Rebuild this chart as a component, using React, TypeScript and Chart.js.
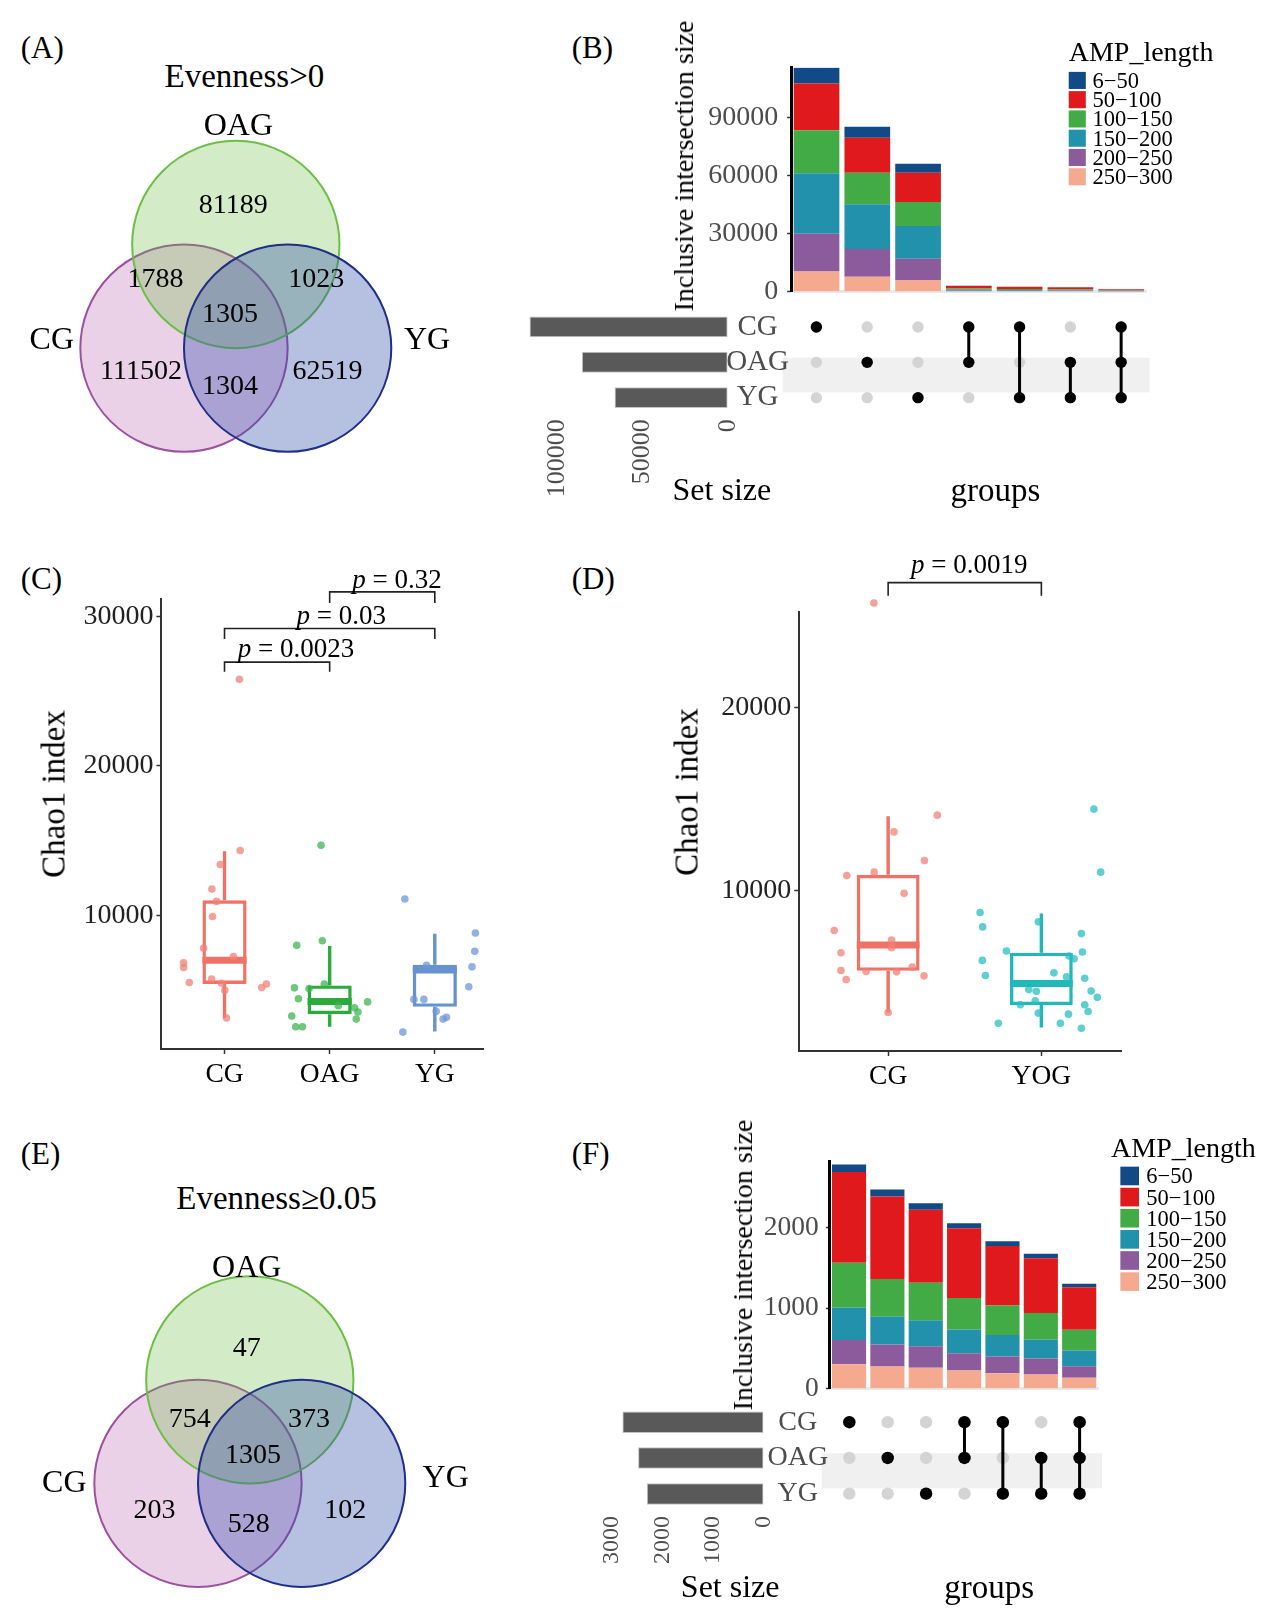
import React, { useEffect, useRef } from "react";
import { Chart, registerables } from "chart.js";

Chart.register(...registerables);
const FONT = "'Liberation Serif', 'Times New Roman', Times, serif";
Chart.defaults.font.family = FONT;
Chart.defaults.color = "#000";
const K = 1624 / 1568; // layout unit -> page pixel

// ================= DATA =================
const setNames = ["CG", "OAG", "YG"];
const ampLengths = ["6−50", "50−100", "100−150", "150−200", "200−250", "250−300"];
const ampColors = ["#124a88", "#e0191c", "#43ab45", "#2292ac", "#8c5b9b", "#f5aa8f"];
const legendTitle = "AMP_length";

// Venn region counts: OAG only, CG∩OAG, OAG∩YG, all three, CG only, CG∩YG, YG only
const vennRegionsA = [81189, 1788, 1023, 1305, 111502, 1304, 62519];
const vennRegionsE = [47, 754, 373, 1305, 203, 528, 102];

// UpSet membership for the 7 intersection columns
const memberCG = [1, 0, 0, 1, 1, 0, 1];
const memberOAG = [0, 1, 0, 1, 0, 1, 1];
const memberYG = [0, 0, 1, 0, 1, 1, 1];

// (B) inclusive intersection sizes split by AMP length
const b_6_50 = [8200, 5700, 4650, 113, 89, 78, 42];
const b_50_100 = [24200, 18100, 15100, 1300, 1100, 980, 530];
const b_100_150 = [22200, 16300, 12400, 600, 510, 450, 260];
const b_150_200 = [31300, 23100, 16900, 450, 380, 340, 193];
const b_200_250 = [19600, 14300, 11000, 330, 280, 250, 144];
const b_250_300 = [10400, 7800, 6100, 300, 250, 230, 136];
const bSetSize = [115899, 85305, 66151];
const bBarTicks = [0, 30000, 60000, 90000];
const bSetTicks = [0, 50000, 100000];

// (F)
const f_6_50 = [95, 89, 82, 63, 59, 57, 42];
const f_50_100 = [1130, 1025, 909, 868, 741, 679, 530];
const f_100_150 = [560, 470, 465, 391, 366, 333, 260];
const f_150_200 = [400, 345, 325, 297, 268, 235, 193];
const f_200_250 = [300, 275, 268, 214, 206, 197, 144];
const f_250_300 = [305, 275, 259, 226, 193, 177, 136];
const fSetSize = [2790, 2479, 2308];
const fBarTicks = [0, 1000, 2000];
const fSetTicks = [0, 1000, 2000, 3000];

// (C) Chao1 box statistics
const groupsC = ["CG", "OAG", "YG"];
const cLow = [3150, 2554, 2248];
const cQ1 = [5420, 3399, 3893];
const cMed = [7000, 4250, 6350];
const cQ3 = [11010, 5325, 6700];
const cHigh = [14300, 7956, 8779];
const cPtsCG = [25800, 14346, 13406, 11762, 10940, 9930, 7815, 7252, 6829, 6524, 5513, 5748, 5466, 5000, 3141, 5184, 5420];
const cJitCG = [0.142, 0.149, -0.041, -0.12, -0.076, -0.114, -0.199, 0.085, -0.389, -0.389, -0.335, -0.123, -0.028, 0.003, 0.019, 0.354, 0.399];
const cPtsOAG = [14698, 8309, 8003, 5161, 5114, 5420, 4433, 3963, 3822, 3540, 4221, 3070, 3282, 2554, 2554];
const cJitOAG = [-0.082, -0.07, -0.313, -0.335, -0.196, -0.051, -0.297, 0.082, 0.237, 0.269, 0.361, 0.253, -0.361, -0.323, -0.259];
const cPtsYG = [11104, 8826, 7604, 6570, 5231, 6664, 4386, 4386, 3587, 3070, 3188, 2201];
const cJitYG = [-0.285, 0.386, 0.38, 0.354, 0.323, -0.079, -0.199, -0.104, 0.013, 0.079, 0.111, -0.304];
const cTicks = [10000, 20000, 30000];
const cPLabels = ["0.0023", "0.03", "0.32"];

// (D)
const groupsD = ["CG", "YOG"];
const dLow = [3350, 2525];
const dQ1 = [5622, 3753];
const dMed = [7032, 4925];
const dQ3 = [10861, 6611];
const dHigh = [14067, 8754];
const dPtsCG = [25700, 14122, 13206, 11649, 10824, 11008, 9853, 7820, 7307, 6886, 6611, 5640, 5145, 5585, 5567, 5823, 5347, 3350];
const dJitCG = [-0.093, 0.321, 0.038, 0.237, -0.27, -0.091, 0.104, -0.352, 0.022, 0.022, -0.308, -0.308, -0.274, -0.144, 0.055, 0.157, 0.234, 0];
const dPtsYOG = [14452, 11008, 8809, 8021, 8296, 7655, 6702, 6647, 6428, 6281, 6190, 5365, 5512, 5292, 5219, 4596, 4504, 3991, 4522, 4174, 3771, 3771, 3405, 3313, 3258, 2764, 2764, 2489];
const dJitYOG = [0.343, 0.387, -0.4, -0.383, -0.02, 0.261, -0.228, 0.268, 0.181, 0.214, -0.385, -0.365, 0.082, 0.164, 0.283, -0.082, -0.033, -0.04, 0.325, 0.365, -0.137, 0.283, 0.305, -0.02, 0.177, -0.281, 0.124, 0.261];
const dTicks = [10000, 20000];
const dPLabels = ["0.0019"];

// ================= HELPERS =================
function drawText(ctx: any, text: string, x: number, cy: number, size: number, align: string = "center", color = "#000", italic = false) {
  ctx.font = `${italic ? "italic " : ""}${size}px ${FONT}`;
  ctx.textAlign = align;
  ctx.textBaseline = "alphabetic";
  ctx.fillStyle = color;
  ctx.fillText(text, x, cy + size * 0.33);
}

function ChartCanvas(props: { left: number; top: number; width: number; height: number; make: () => any }) {
  const ref = useRef<HTMLCanvasElement | null>(null);
  const w = Math.round(props.width * K);
  const h = Math.round(props.height * K);
  useEffect(() => {
    const chart = new Chart(ref.current as HTMLCanvasElement, props.make());
    return () => chart.destroy();
  }, []);
  return (
    <canvas
      ref={ref}
      width={w}
      height={h}
      style={{ position: "absolute", left: props.left * K, top: props.top * K, width: w, height: h }}
    />
  );
}

function Label(p: { x: number; y: number; size: number; rotate?: boolean; left?: boolean; children: any }) {
  const tx = p.left ? "0" : "-50%";
  return (
    <div
      style={{
        position: "absolute",
        left: p.x * K,
        top: p.y * K,
        fontSize: p.size,
        lineHeight: 1,
        whiteSpace: "nowrap",
        fontFamily: FONT,
        color: "#000",
        transform: `translate(${tx},-50%)${p.rotate ? " rotate(-90deg)" : ""}`,
      }}
    >
      {p.children}
    </div>
  );
}

const baseOpts = {
  responsive: false,
  animation: false,
  events: [],
  plugins: { legend: { display: false }, tooltip: { enabled: false }, title: { display: false } },
};

const numLabel = (v: any) => String(v);

// ================= VENN =================
const VENN_CIRCLES = [
  { cx: 0.5, cy: 0, r: 1, fill: "rgba(45,75,170,0.35)", stroke: "#1f2e86" }, // YG
  { cx: 0, cy: 1, r: 1, fill: "rgba(110,190,70,0.30)", stroke: "#6cbf45" }, // OAG
  { cx: -0.5, cy: 0, r: 1, fill: "rgba(175,70,160,0.25)", stroke: "#9c509f" }, // CG
];

function makeVenn(view: number[], regions: number[], regionPos: number[][], namePos: number[][]) {
  const textPlugin = {
    id: "vennText",
    afterDatasetsDraw(chart: any) {
      const { ctx } = chart;
      const sx = chart.scales.x;
      const sy = chart.scales.y;
      ctx.save();
      regions.forEach((v, i) => {
        drawText(ctx, String(v), sx.getPixelForValue(regionPos[i][0]), sy.getPixelForValue(regionPos[i][1]), 28);
      });
      setNames.forEach((n, i) => {
        drawText(ctx, n, sx.getPixelForValue(namePos[i][0]), sy.getPixelForValue(namePos[i][1]), 32);
      });
      ctx.restore();
    },
  };
  return {
    type: "scatter",
    data: {
      datasets: VENN_CIRCLES.map((c) => ({
        data: [{ x: c.cx, y: c.cy }],
        pointRadius: (ctx: any) => {
          const s = ctx.chart.scales.x;
          return Math.abs(s.getPixelForValue(c.r) - s.getPixelForValue(0));
        },
        pointBackgroundColor: c.fill,
        pointBorderColor: c.stroke,
        pointBorderWidth: 2,
        clip: false,
      })),
    },
    options: {
      ...baseOpts,
      layout: { padding: 0 },
      scales: {
        x: { type: "linear", display: false, min: view[0], max: view[1] },
        y: { type: "linear", display: false, min: view[2], max: view[3] },
      },
    },
    plugins: [textPlugin],
  };
}

// ================= UPSET =================
function makeUpsetBars(segs: number[][], yMax: number, ticks: number[], g: any, L: any) {
  const legendPlugin = {
    id: "upsetLegend",
    afterDraw(chart: any) {
      const ctx = chart.ctx;
      ctx.save();
      drawText(ctx, legendTitle, L.titleX * K, L.titleY * K, 28, "left");
      const ds = chart.data.datasets.slice().reverse();
      ds.forEach((d: any, i: number) => {
        const cy = (L.rowY + i * L.step) * K;
        ctx.fillStyle = d.backgroundColor;
        ctx.fillRect(L.boxX * K, cy - (L.box * K) / 2, L.box * K, L.box * K);
        drawText(ctx, d.label, L.textX * K, cy, 22.5, "left");
      });
      ctx.restore();
    },
  };
  const order = [5, 4, 3, 2, 1, 0]; // bottom (250-300) to top (6-50)
  return {
    type: "bar",
    data: {
      labels: segs[0].map((_, i) => String(i + 1)),
      datasets: order.map((k) => ({
        label: ampLengths[k],
        data: segs[k],
        backgroundColor: ampColors[k],
        borderWidth: 0,
        barPercentage: g.barPct,
        categoryPercentage: 1,
      })),
    },
    options: {
      ...baseOpts,
      layout: { padding: { left: 0, right: g.padRight * K, top: g.padTop * K, bottom: g.padBottom * K } },
      scales: {
        x: {
          stacked: true,
          ticks: { display: false },
          grid: { display: false, drawTicks: false },
          border: { display: true, color: "#e8e8e8", width: 3 },
          afterFit: (s: any) => {
            s.height = 0;
            s.paddingLeft = 0;
            s.paddingRight = 0;
          },
        },
        y: {
          stacked: true,
          min: 0,
          max: yMax,
          afterBuildTicks: (s: any) => {
            s.ticks = ticks.map((v) => ({ value: v }));
          },
          ticks: { font: { size: g.tickSize }, color: "#4d4d4d", padding: g.tickPad, callback: numLabel },
          grid: { display: true, drawOnChartArea: false, drawTicks: true, tickLength: 4, tickColor: "#333", tickWidth: 1.5 },
          border: { display: true, color: "#000", width: 3 },
          afterFit: (s: any) => {
            s.width = g.axisW * K;
            s.paddingTop = 0;
            s.paddingBottom = 0;
          },
        },
      },
    },
    plugins: [legendPlugin],
  };
}

function makeMatrix(g: any) {
  const members = [memberCG, memberOAG, memberYG];
  const all: any[] = [];
  const black: any[] = [];
  const lines: any[] = [];
  for (let c = 0; c < memberCG.length; c++) {
    const rows: number[] = [];
    for (let r = 0; r < 3; r++) {
      all.push({ x: c + 1, y: r + 1 });
      if (members[r][c]) {
        black.push({ x: c + 1, y: r + 1 });
        rows.push(r + 1);
      }
    }
    if (rows.length > 1) {
      lines.push({ x: c + 1, y: Math.min(...rows) });
      lines.push({ x: c + 1, y: Math.max(...rows) });
      lines.push({ x: c + 1, y: null });
    }
  }
  const bandPlugin = {
    id: "rowBand",
    beforeDraw(chart: any) {
      const { ctx, chartArea } = chart;
      const sy = chart.scales.y;
      const y1 = sy.getPixelForValue(1.87);
      const y2 = sy.getPixelForValue(2.85);
      ctx.save();
      ctx.fillStyle = "#f0f0f0";
      ctx.fillRect(chartArea.left - 8 * K, Math.min(y1, y2), chartArea.right - chartArea.left + 11 * K, Math.abs(y2 - y1));
      ctx.restore();
    },
  };
  return {
    type: "scatter",
    data: {
      datasets: [
        { data: black, pointRadius: g.r * K, pointBackgroundColor: "#000", pointBorderWidth: 0, clip: false },
        { data: lines, showLine: true, spanGaps: false, borderColor: "#000", borderWidth: 3, pointRadius: 0, clip: false },
        { data: all, pointRadius: g.r * K, pointBackgroundColor: "#d4d4d4", pointBorderWidth: 0, clip: false },
      ],
    },
    options: {
      ...baseOpts,
      layout: { padding: { left: 0, right: g.padRight * K, top: g.padTop * K, bottom: g.padBottom * K } },
      scales: {
        x: { type: "linear", display: false, min: 0.5, max: memberCG.length + 0.5 },
        y: {
          type: "linear",
          min: 0.5,
          max: 3.5,
          reverse: true,
          afterBuildTicks: (s: any) => {
            s.ticks = [1, 2, 3].map((v) => ({ value: v }));
          },
          ticks: {
            font: { size: g.fontSize },
            color: "#4d4d4d",
            crossAlign: "center",
            padding: 2,
            callback: (v: any) => setNames[Math.round(v) - 1],
          },
          grid: { display: false, drawTicks: false },
          border: { display: false },
          afterFit: (s: any) => {
            s.width = g.axisW * K;
            s.paddingTop = 0;
            s.paddingBottom = 0;
          },
        },
      },
    },
    plugins: [bandPlugin],
  };
}

function makeSetSize(sizes: number[], xMax: number, ticks: number[], g: any) {
  return {
    type: "bar",
    data: {
      labels: setNames,
      datasets: [
        {
          data: sizes,
          backgroundColor: "#595959",
          borderColor: "#c4c4c4",
          borderWidth: 1,
          borderSkipped: false,
          barPercentage: g.barPct,
          categoryPercentage: 1,
        },
      ],
    },
    options: {
      ...baseOpts,
      indexAxis: "y",
      layout: { padding: { left: g.padLeft * K, right: g.padRight * K, top: g.padTop * K, bottom: 0 } },
      scales: {
        y: { display: false },
        x: {
          min: 0,
          max: xMax,
          reverse: true,
          afterBuildTicks: (s: any) => {
            s.ticks = ticks.map((v) => ({ value: v }));
          },
          ticks: {
            font: { size: g.fontSize },
            color: "#4d4d4d",
            minRotation: 90,
            maxRotation: 90,
            autoSkip: false,
            padding: 4,
            callback: numLabel,
          },
          grid: { display: false, drawTicks: false },
          border: { display: false },
          afterFit: (s: any) => {
            s.height = g.axisH * K;
            s.paddingLeft = 0;
            s.paddingRight = 0;
          },
        },
      },
    },
  };
}

// ================= BOXPLOTS =================
function makeBox(
  groups: string[],
  stats: number[][],
  pts: number[][],
  jit: number[][],
  colors: string[],
  ptColors: string[],
  xr: number[],
  yr: number[],
  ticks: number[],
  brackets: any[],
  g: any
) {
  const [low, q1, med, q3, high] = stats;
  const boxIdx = groups.length;
  const extras = {
    id: "boxExtras",
    beforeDatasetsDraw(chart: any) {
      // let points that sit above the axis range (outliers) still be drawn
      chart.chartArea.top -= 200;
    },
    afterDatasetsDraw(chart: any) {
      chart.chartArea.top += 200;
    },
    afterDatasetDraw(chart: any, args: any) {
      if (args.index !== boxIdx) return;
      const { ctx } = chart;
      const sy = chart.scales.y;
      ctx.save();
      args.meta.data.forEach((el: any, i: number) => {
        ctx.strokeStyle = colors[i];
        ctx.lineCap = "butt";
        ctx.lineWidth = 3.4;
        ctx.beginPath();
        ctx.moveTo(el.x, sy.getPixelForValue(q3[i]));
        ctx.lineTo(el.x, sy.getPixelForValue(high[i]));
        ctx.moveTo(el.x, sy.getPixelForValue(q1[i]));
        ctx.lineTo(el.x, sy.getPixelForValue(low[i]));
        ctx.stroke();
        ctx.lineWidth = 7;
        ctx.beginPath();
        ctx.moveTo(el.x - el.width / 2, sy.getPixelForValue(med[i]));
        ctx.lineTo(el.x + el.width / 2, sy.getPixelForValue(med[i]));
        ctx.stroke();
      });
      ctx.restore();
    },
    afterDraw(chart: any) {
      const { ctx } = chart;
      const sx = chart.scales.x;
      const sy = chart.scales.y;
      ctx.save();
      brackets.forEach((b) => {
        const x1 = sx.getPixelForValue(b.a);
        const x2 = sx.getPixelForValue(b.b);
        const y = sy.getPixelForValue(b.y);
        const yt = sy.getPixelForValue(b.tip);
        ctx.strokeStyle = "#222";
        ctx.lineWidth = 1.6;
        ctx.beginPath();
        ctx.moveTo(x1, yt);
        ctx.lineTo(x1, y);
        ctx.lineTo(x2, y);
        ctx.lineTo(x2, yt);
        ctx.stroke();
        const size = 27;
        ctx.font = `italic ${size}px ${FONT}`;
        const w1 = ctx.measureText("p").width;
        ctx.font = `${size}px ${FONT}`;
        const rest = " = " + b.label;
        const w2 = ctx.measureText(rest).width;
        const cx = sx.getPixelForValue(b.tx);
        const cy = sy.getPixelForValue(b.ty);
        const start = cx - (w1 + w2) / 2;
        drawText(ctx, "p", start, cy, size, "left", "#000", true);
        drawText(ctx, rest, start + w1, cy, size, "left");
      });
      ctx.restore();
    },
  };
  const pointSets = groups.map((_, gi) => ({
    type: "scatter",
    data: pts[gi].map((v, i) => ({ x: gi + 1 + jit[gi][i], y: v })),
    pointRadius: 3.8,
    pointBackgroundColor: ptColors[gi],
    pointBorderWidth: 0,
    clip: false,
  }));
  const boxSet = {
    type: "bar",
    data: groups.map((_, i) => ({ x: i + 1, y: [q1[i], q3[i]] })),
    backgroundColor: "rgba(255,255,255,0)",
    borderColor: colors,
    borderWidth: 3.4,
    borderSkipped: false,
    barPercentage: g.boxW,
    categoryPercentage: 1,
    clip: false,
  };
  return {
    type: "scatter",
    data: { datasets: [...pointSets, boxSet] },
    options: {
      ...baseOpts,
      layout: { padding: { left: 0, right: g.padRight * K, top: g.padTop * K, bottom: 0 } },
      scales: {
        x: {
          type: "linear",
          min: xr[0],
          max: xr[1],
          offset: false,
          afterBuildTicks: (s: any) => {
            s.ticks = groups.map((_, i) => ({ value: i + 1 }));
          },
          ticks: { font: { size: 27.5 }, color: "#000", padding: 4, callback: (v: any) => groups[Math.round(v) - 1] },
          grid: { display: true, offset: false, drawOnChartArea: false, drawTicks: true, tickLength: 5, tickColor: "#333", tickWidth: 1.5 },
          border: { display: true, color: "#333", width: 2 },
          afterFit: (s: any) => {
            s.height = g.axisH * K;
            s.paddingLeft = 0;
            s.paddingRight = 0;
          },
        },
        y: {
          type: "linear",
          min: yr[0],
          max: yr[1],
          offset: false,
          afterBuildTicks: (s: any) => {
            s.ticks = ticks.map((v) => ({ value: v }));
          },
          ticks: { font: { size: 28 }, color: "#222", padding: 3, callback: numLabel },
          grid: { display: true, offset: false, drawOnChartArea: false, drawTicks: true, tickLength: 5, tickColor: "#333", tickWidth: 1.5 },
          border: { display: true, color: "#333", width: 2 },
          afterFit: (s: any) => {
            s.width = g.axisW * K;
            s.paddingTop = 0;
            s.paddingBottom = 0;
          },
        },
      },
    },
    plugins: [extras],
  };
}

// ================= APP =================
export default function App() {
  const bSegs = [b_6_50, b_50_100, b_100_150, b_150_200, b_200_250, b_250_300];
  const fSegs = [f_6_50, f_50_100, f_100_150, f_150_200, f_200_250, f_250_300];
  const bracketsC = [
    { a: 1, b: 2, y: 26940, tip: 26290, label: cPLabels[0], tx: 1.68, ty: 27870 },
    { a: 1, b: 3, y: 29190, tip: 28490, label: cPLabels[1], tx: 2.11, ty: 30110 },
    { a: 2, b: 3, y: 31640, tip: 30900, label: cPLabels[2], tx: 2.64, ty: 32470 },
  ];
  const bracketsD = [{ a: 1, b: 2, y: 26815, tip: 26100, label: dPLabels[0], tx: 1.53, ty: 27850 }];

  return (
    <div style={{ position: "absolute", left: 0, top: 0, width: 1269, height: 1624, background: "#fff", overflow: "hidden", fontFamily: FONT }}>
      {/* Panel letters */}
      <Label x={20} y={45} size={31} left>(A)</Label>
      <Label x={552} y={45} size={31} left>(B)</Label>
      <Label x={20} y={558} size={31} left>(C)</Label>
      <Label x={552} y={558} size={31} left>(D)</Label>
      <Label x={20} y={1113} size={31} left>(E)</Label>
      <Label x={552} y={1113} size={31} left>(F)</Label>

      {/* A */}
      <Label x={236} y={73} size={33}>Evenness&gt;0</Label>
      <ChartCanvas
        left={0}
        top={0}
        width={520}
        height={500}
        make={() =>
          makeVenn(
            [-2.275, 2.925, -1.64, 3.36],
            vennRegionsA,
            [[-0.025, 1.39], [-0.775, 0.68], [0.775, 0.68], [-0.055, 0.34], [-0.915, -0.21], [-0.055, -0.35], [0.885, -0.21]],
            [[-1.775, 0.09], [0.025, 2.16], [1.845, 0.09]]
          )
        }
      />

      {/* B */}
      <ChartCanvas
        left={620}
        top={10}
        width={640}
        height={280}
        make={() =>
          makeUpsetBars(
            bSegs,
            116000,
            bBarTicks,
            { padRight: 153, padTop: 55.5, padBottom: 8, axisW: 144, tickSize: 28, tickPad: 9, barPct: 0.9 },
            { titleX: 412, titleY: 40, boxX: 412, rowY: 68, step: 18.6, box: 16.5, textX: 435 }
          )
        }
      />
      <ChartCanvas left={680} top={290} width={440} height={130} make={() => makeMatrix({ padRight: 13, padTop: 9, padBottom: 19, axisW: 84, r: 5.5, fontSize: 29 })} />
      <ChartCanvas
        left={490}
        top={290}
        width={220}
        height={190}
        make={() => makeSetSize(bSetSize, 120000, bSetTicks, { padLeft: 14, padRight: 8, padTop: 9, axisH: 79, barPct: 0.59, fontSize: 26 })}
      />
      <Label x={660} y={160} size={28} rotate>Inclusive intersection size</Label>
      <Label x={697} y={472} size={32}>Set size</Label>
      <Label x={961} y={473} size={33}>groups</Label>

      {/* C */}
      <ChartCanvas
        left={60}
        top={500}
        width={430}
        height={570}
        make={() =>
          makeBox(
            groupsC,
            [cLow, cQ1, cMed, cQ3, cHigh],
            [cPtsCG, cPtsOAG, cPtsYG],
            [cJitCG, cJitOAG, cJitYG],
            ["#ee7366", "#2aab3c", "#6693d0"],
            ["rgba(240,130,120,0.75)", "rgba(60,180,80,0.75)", "rgba(110,150,215,0.75)"],
            [0.4, 3.46],
            [1073, 31176],
            cTicks,
            bracketsC,
            { padRight: 23, padTop: 78, axisW: 96, axisH: 57, boxW: 0.42 }
          )
        }
      />
      <Label x={52} y={767} size={33} rotate>Chao1 index</Label>

      {/* D */}
      <ChartCanvas
        left={680}
        top={500}
        width={430}
        height={570}
        make={() =>
          makeBox(
            groupsD,
            [dLow, dQ1, dMed, dQ3, dHigh],
            [dPtsCG, dPtsYOG],
            [dJitCG, dJitYOG],
            ["#ee7366", "#20b8b9"],
            ["rgba(240,130,120,0.75)", "rgba(40,190,192,0.75)"],
            [0.42, 2.52],
            [1243, 25198],
            dTicks,
            bracketsD,
            { padRight: 27, padTop: 91, axisW: 92, axisH: 55, boxW: 0.41 }
          )
        }
      />
      <Label x={663} y={765} size={33} rotate>Chao1 index</Label>

      {/* E */}
      <Label x={267} y={1157} size={33}>Evenness≥0.05</Label>
      <ChartCanvas
        left={0}
        top={1080}
        width={520}
        height={544}
        make={() =>
          makeVenn(
            [-2.41, 2.79, -1.92, 3.52],
            vennRegionsE,
            [[-0.03, 1.32], [-0.58, 0.63], [0.57, 0.63], [0.03, 0.29], [-0.92, -0.25], [-0.01, -0.38], [0.92, -0.25]],
            [[-1.79, 0.02], [-0.03, 2.1], [1.89, 0.07]]
          )
        }
      />

      {/* F */}
      <ChartCanvas
        left={680}
        top={1080}
        width={580}
        height={270}
        make={() =>
          makeUpsetBars(
            fSegs,
            2820,
            fBarTicks,
            { padRight: 199.5, padTop: 41.5, padBottom: 10, axisW: 121.5, tickSize: 27.5, tickPad: 7, barPct: 0.89 },
            { titleX: 393, titleY: 28, boxX: 402, rowY: 55, step: 20.4, box: 18, textX: 427 }
          )
        }
      />
      <ChartCanvas left={700} top={1340} width={380} height={140} make={() => makeMatrix({ padRight: 19.5, padTop: 15.75, padBottom: 20.75, axisW: 101.5, r: 6, fontSize: 28 })} />
      <ChartCanvas
        left={570}
        top={1340}
        width={180}
        height={185}
        make={() => makeSetSize(fSetSize, 3000, fSetTicks, { padLeft: 21, padRight: 12, padTop: 15.75, axisH: 65.75, barPct: 0.6, fontSize: 24 })}
      />
      <Label x={717} y={1221} size={28} rotate>Inclusive intersection size</Label>
      <Label x={705} y={1531} size={32}>Set size</Label>
      <Label x={955} y={1532} size={33}>groups</Label>
    </div>
  );
}
